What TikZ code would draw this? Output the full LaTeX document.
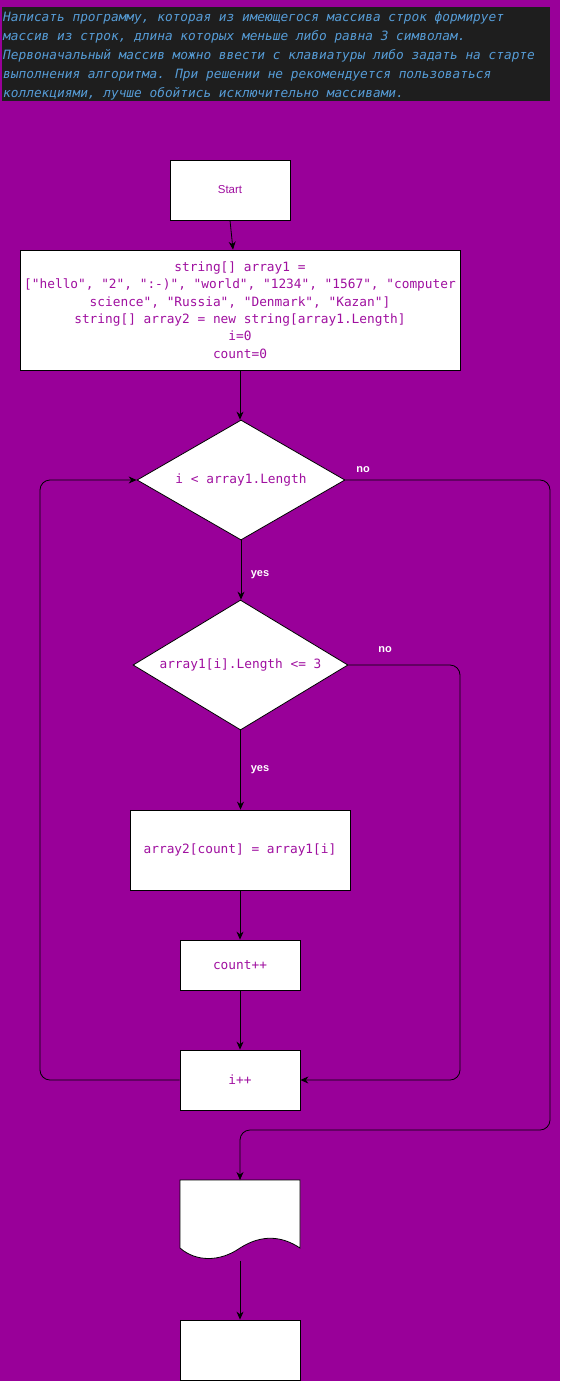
\documentclass[tikz,border=0pt]{standalone}
\usepackage{fontspec}
\setmainfont{Liberation Sans}
\newfontfamily\codefont{DejaVu Sans Mono}
\usetikzlibrary{shapes.geometric,arrows.meta}
\definecolor{bgpurple}{HTML}{990099}
\definecolor{inkpurple}{HTML}{A010A0}
\definecolor{editorbg}{HTML}{1E1E1E}
\definecolor{commentblue}{HTML}{569CD6}
\begin{document}
\begin{tikzpicture}[x=1pt,y=-1pt,
  procbox/.style={draw=black, fill=white, line width=0.8pt, inner sep=0pt,
    text=inkpurple},
  decision/.style={diamond, draw=black, fill=white, line width=0.8pt,
    inner sep=0pt, text=inkpurple, font=\codefont\fontsize{12.8}{15}\selectfont},
  code/.style={font=\codefont\fontsize{12.8}{17.4}\selectfont},
  arr/.style={draw=black, line width=0.8pt, -{Stealth[length=8pt,width=7pt]}},
  flow/.style={draw=black, line width=0.8pt, rounded corners=10pt},
  branchlabel/.style={text=white, font=\bfseries\fontsize{11}{13}\selectfont},
  hdr/.style={anchor=base west, inner sep=0pt, text=commentblue,
    font=\codefont\itshape\fontsize{12.8}{15}\selectfont}]
  % canvas
  \fill[bgpurple] (0,0) rectangle (560,1381);
  \useasboundingbox (0,0) rectangle (560,1381);

  % task statement
  \fill[editorbg] (2,7) rectangle (550,101);
  \node[hdr] (h1) at (3,21.5) {Написать программу, которая из имеющегося массива строк формирует};
  \node[hdr] (h2) at (3,40.5) {массив из строк, длина которых меньше либо равна 3 символам.};
  \node[hdr] (h3) at (3,59.5) {Первоначальный массив можно ввести с клавиатуры либо задать на старте};
  \node[hdr] (h4) at (3,78.5) {выполнения алгоритма. При решении не рекомендуется пользоваться};
  \node[hdr] (h5) at (3,97.5) {коллекциями, лучше обойтись исключительно массивами.};

  % flowchart nodes
  \node[procbox, minimum width=120pt, minimum height=60pt,
        font=\fontsize{11.5}{13}\selectfont] (start) at (230,190) {Start};
  \node[procbox, code, minimum width=440pt, minimum height=120pt, align=center]
    (init) at (240,310)
    {string[] array1 =\\
     {[}"hello", "2", ":-)", "world", "1234", "1567", "computer\\
     science", "Russia", "Denmark", "Kazan"{]}\\
     string{[}{]} array2 = new string{[}array1.Length{]}\\
     i=0\\
     count=0};
  \node[decision, aspect=1.73, minimum width=208pt, minimum height=120pt] (d1) at (241,480)
    {i < array1.Length};
  \node[decision, aspect=1.65, minimum width=215pt, minimum height=130pt] (d2) at (240.5,665)
    {array1[i].Length <= 3};
  \node[procbox, code, minimum width=220pt, minimum height=80pt] (assign) at (240,850)
    {array2[count] = array1[i]};
  \node[procbox, code, minimum width=120pt, minimum height=50pt] (cnt) at (240,965)
    {count++};
  \node[procbox, code, minimum width=120pt, minimum height=60pt] (inc) at (240,1080)
    {i++};
  \coordinate (doc) at (240,1180);
  \draw[fill=white, line width=0.8pt] (180,1180) -- (300,1180) -- (300,1248)
    .. controls (282,1236) and (262,1234) .. (240,1248)
    .. controls (220,1262) and (196,1262) .. (180,1248) -- cycle;
  \coordinate (docbottom) at (240,1261);
  \node[procbox, minimum width=120pt, minimum height=60pt] (finish) at (240,1350) {};

  % routing points
  \coordinate (r1) at (550,1130);
  \coordinate (r2) at (460,1080);
  \coordinate (l1) at (40,480);

  % connectors
  \draw[arr] (start.south) -- ([xshift=-7pt]init.north);
  \draw[arr] (init.south) -- (init.south |- d1.north);
  \draw[arr] (d1.south) -- (d1.south |- d2.north);
  \draw[arr] (d2.south) -- (d2.south |- assign.north);
  \draw[arr] (assign.south) -- (cnt.north);
  \draw[arr] (cnt.south) -- (inc.north);
  \draw[flow, arr] (d1.east) -| (r1) -| (doc);
  \draw[flow, arr] (d2.east) -| (r2) -- (inc.east);
  \draw[flow, arr] (inc.west) -| (l1) -- (d1.west);
  \draw[arr] (docbottom) -- (finish.north);

  % branch labels
  \node[branchlabel] (no1) at (363,470) {no};
  \node[branchlabel] (yes1) at (260,575) {yes};
  \node[branchlabel] (no2) at (385,650) {no};
  \node[branchlabel] (yes2) at (260,770) {yes};
\end{tikzpicture}
\end{document}
